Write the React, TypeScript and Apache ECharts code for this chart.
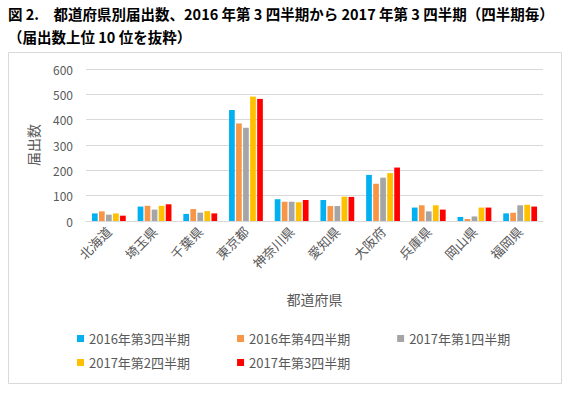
import React, { useEffect, useRef } from "react";
import * as echarts from "echarts";

const categories = ["北海道", "埼玉県", "千葉県", "東京都", "神奈川県", "愛知県", "大阪府", "兵庫県", "岡山県", "福岡県"];
const seriesNames = ["2016年第3四半期", "2016年第4四半期", "2017年第1四半期", "2017年第2四半期", "2017年第3四半期"];
const q2016_3 = [30, 57, 28, 438, 86, 83, 182, 53, 16, 30];
const q2016_4 = [38, 60, 47, 385, 76, 59, 147, 62, 8, 33];
const q2017_1 = [25, 45, 33, 368, 76, 59, 171, 38, 18, 62];
const q2017_2 = [30, 60, 39, 491, 74, 96, 189, 62, 53, 64];
const q2017_3 = [21, 66, 30, 482, 83, 95, 211, 45, 53, 57];
const seriesData = [q2016_3, q2016_4, q2017_1, q2017_2, q2017_3];
const colors = ["#00B0F0", "#F79646", "#A5A5A5", "#FFC000", "#FF0000"];
const yTicks = { min: 0, max: 600, interval: 100 };
const titleLine1 = "図 2.　都道府県別届出数、2016 年第 3 四半期から 2017 年第 3 四半期（四半期毎）";
const titleLine2 = "（届出数上位 10 位を抜粋）";

const FONT = "'Noto Sans CJK JP', 'Noto Sans', sans-serif";
const GRAY = "#595959";

export default function App() {
  const ref = useRef<HTMLDivElement>(null);
  useEffect(() => {
    if (!ref.current) return;
    const chart = echarts.init(ref.current, undefined, { renderer: "svg" });
    const legendText = { color: GRAY, fontSize: 13, fontFamily: FONT };
    chart.setOption({
      animation: false,
      textStyle: { fontFamily: FONT },
      graphic: [
        {
          type: "rect",
          shape: { x: 8.5, y: 52.5, width: 553, height: 331 },
          style: { fill: "none", stroke: "#D9D9D9", lineWidth: 1 },
          z: -1,
        },
        {
          type: "text",
          x: 8,
          y: 6,
          style: { text: titleLine1, fontSize: 14.5, fontWeight: "bold", fill: "#000", fontFamily: FONT },
        },
        {
          type: "text",
          x: 8,
          y: 29,
          style: { text: titleLine2, fontSize: 14.5, fontWeight: "bold", fill: "#000", fontFamily: FONT },
        },
      ],
      color: colors,
      grid: { left: 86, right: 28, top: 69, bottom: 174, containLabel: false },
      legend: [
        {
          data: seriesNames.slice(0, 3),
          left: 72,
          top: 327,
          icon: "rect",
          itemWidth: 7,
          itemHeight: 7,
          itemGap: 47,
          textStyle: legendText,
        },
        {
          data: seriesNames.slice(3),
          left: 72,
          top: 351,
          icon: "rect",
          itemWidth: 7,
          itemHeight: 7,
          itemGap: 47,
          textStyle: legendText,
        },
      ],
      xAxis: {
        type: "category",
        data: categories,
        name: "都道府県",
        nameLocation: "middle",
        nameGap: 71,
        nameTextStyle: { color: GRAY, fontSize: 14 },
        axisLine: { lineStyle: { color: "#D9D9D9" } },
        axisTick: { show: false },
        axisLabel: { rotate: 45, color: GRAY, fontSize: 13, margin: 8 },
      },
      yAxis: {
        type: "value",
        ...yTicks,
        name: "届出数",
        nameLocation: "middle",
        nameGap: 46,
        nameRotate: 90,
        nameTextStyle: { color: GRAY, fontSize: 14 },
        axisLine: { show: false },
        axisTick: { show: false },
        axisLabel: { color: GRAY, fontSize: 12, margin: 13 },
        splitLine: { lineStyle: { color: "#D9D9D9" } },
      },
      series: seriesNames.map((n, i) => ({
        name: n,
        type: "bar",
        data: seriesData[i],
        barGap: "23%",
        barCategoryGap: "26%",
      })),
    });
    return () => chart.dispose();
  }, []);
  return <div ref={ref} style={{ width: 571, height: 395, position: "absolute", left: 0, top: 0 }} />;
}
